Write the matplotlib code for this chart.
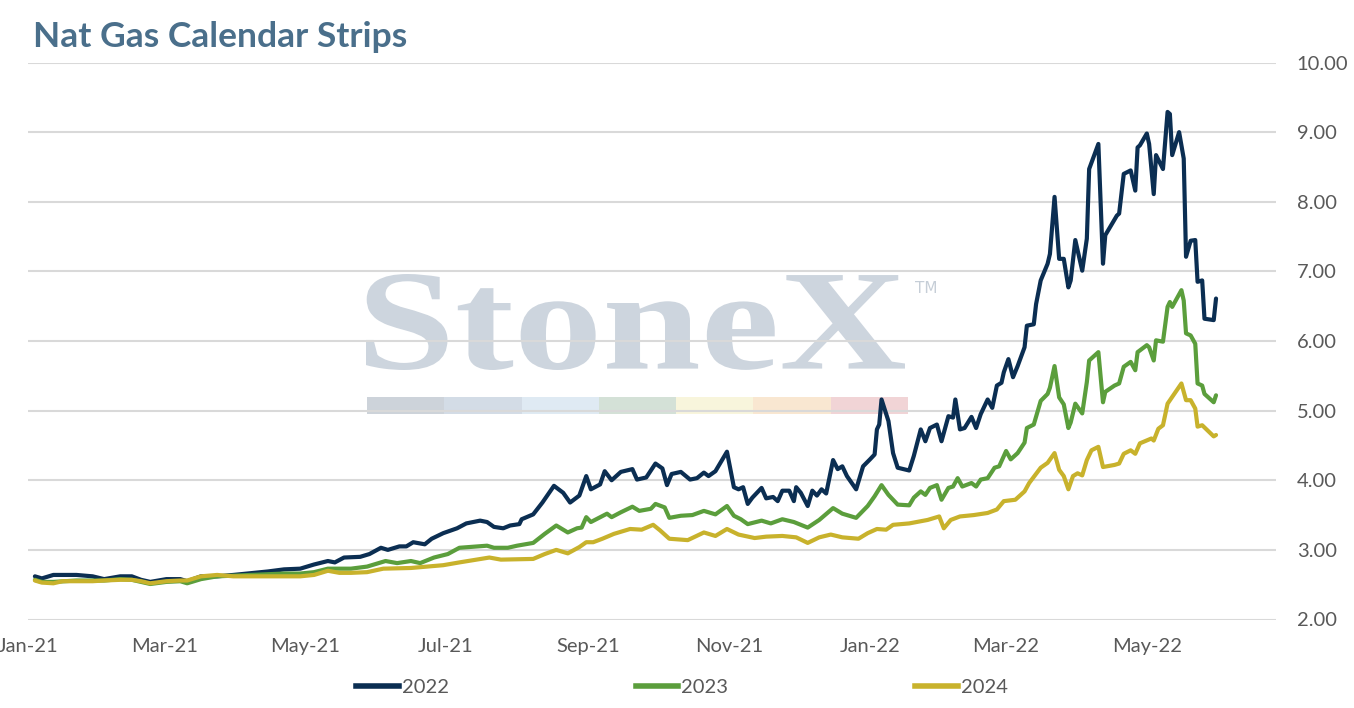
import matplotlib
matplotlib.use("Agg")
import matplotlib.pyplot as plt
import matplotlib.dates as mdates
import matplotlib.transforms as mtransforms
from matplotlib.textpath import TextPath
from matplotlib.patches import PathPatch, Rectangle
from matplotlib.font_manager import FontProperties
from matplotlib.lines import Line2D
import pandas as pd

# ---------------- data ----------------
TITLE = "Nat Gas Calendar Strips"
SERIES_NAMES = ["2022", "2023", "2024"]
SERIES_COLORS = ["#0b2e52", "#5b9e3c", "#c8b22c"]
BASE_DATE = "2021-01-01"          # x values below are days since this date
Y_TICKS = [2, 3, 4, 5, 6, 7, 8, 9, 10]
X_END = "2022-06-26"

days_2022 = [3, 6, 11, 21, 28, 33, 40, 45, 49, 53, 60, 66, 69, 75, 82, 89, 104, 111,
             118, 124, 130, 133, 137, 144, 148, 153, 156, 161, 164, 167, 172, 175,
             180, 186, 190, 196, 199, 202, 206, 209, 213, 214, 219, 223, 228, 232,
             235, 239, 242, 244, 248, 250, 253, 257, 262, 264, 268, 272, 275, 277,
             279, 283, 287, 290, 293, 295, 298, 303, 306, 308, 310, 312, 314, 318,
             320, 323, 325, 327, 330, 332, 333, 335, 338, 340, 342, 344, 346, 349,
             351, 353, 355, 359, 362, 365, 367, 368, 369, 370, 373, 375, 377, 382,
             384, 387, 389, 391, 394, 396, 399, 401, 402, 404, 406, 409, 411, 413,
             416, 418, 420, 422, 423, 425, 427, 429, 432, 433, 436, 437, 439, 442,
             443, 445, 447, 449, 451, 452, 454, 457, 459, 460, 464, 466, 467, 472,
             473, 475, 478, 480, 481, 482, 485, 486, 488, 489, 492, 494, 495, 496,
             499, 501, 502, 504, 506, 507, 509, 510, 514, 515]
vals_2022 = [2.62, 2.59, 2.64, 2.64, 2.62, 2.58, 2.62, 2.62, 2.57, 2.54, 2.58, 2.58,
             2.55, 2.62, 2.62, 2.64, 2.69, 2.72, 2.73, 2.79, 2.84, 2.82, 2.89, 2.90,
             2.94, 3.03, 3.00, 3.05, 3.05, 3.11, 3.08, 3.16, 3.24, 3.31, 3.38, 3.42,
             3.40, 3.33, 3.31, 3.35, 3.37, 3.44, 3.51, 3.68, 3.92, 3.82, 3.68, 3.78,
             4.06, 3.87, 3.94, 4.13, 4.00, 4.12, 4.16, 4.01, 4.04, 4.24, 4.17, 3.93,
             4.09, 4.12, 4.01, 4.03, 4.11, 4.06, 4.13, 4.41, 3.90, 3.87, 3.90, 3.66,
             3.75, 3.89, 3.74, 3.76, 3.70, 3.85, 3.85, 3.70, 3.90, 3.82, 3.63, 3.85,
             3.78, 3.87, 3.81, 4.29, 4.16, 4.20, 4.06, 3.87, 4.20, 4.30, 4.37, 4.73,
             4.80, 5.16, 4.85, 4.39, 4.18, 4.14, 4.35, 4.73, 4.56, 4.75, 4.80, 4.56,
             4.92, 4.90, 5.16, 4.73, 4.75, 4.91, 4.75, 4.95, 5.16, 5.04, 5.36, 5.40,
             5.55, 5.74, 5.48, 5.64, 5.91, 6.22, 6.24, 6.53, 6.87, 7.11, 7.25, 8.07,
             7.18, 7.18, 6.77, 6.87, 7.45, 7.01, 7.47, 8.47, 8.83, 7.11, 7.52, 7.80,
             7.83, 8.40, 8.45, 8.16, 8.78, 8.81, 8.98, 8.83, 8.11, 8.67, 8.47, 9.29,
             9.26, 8.67, 9.00, 8.62, 7.21, 7.44, 7.45, 6.85, 6.87, 6.32, 6.30, 6.61]

days_2023 = [3, 6, 11, 21, 28, 33, 40, 45, 49, 53, 60, 66, 69, 75, 82, 89, 97, 104,
             111, 118, 124, 130, 140, 147, 155, 160, 166, 170, 176, 182, 187, 195,
             199, 202, 208, 212, 219, 224, 229, 234, 238, 240, 242, 244, 251, 253,
             257, 262, 265, 270, 272, 276, 278, 283, 288, 293, 298, 303, 306, 309,
             312, 318, 322, 327, 332, 338, 343, 349, 353, 359, 364, 367, 370, 373,
             377, 382, 384, 387, 389, 391, 394, 396, 399, 401, 403, 405, 409, 411,
             413, 416, 419, 421, 424, 426, 429, 432, 433, 436, 439, 442, 443, 445,
             447, 449, 451, 452, 454, 457, 459, 460, 464, 466, 467, 471, 473, 475,
             478, 480, 481, 485, 486, 488, 489, 492, 494, 495, 496, 500, 501, 502,
             504, 506, 507, 509, 510, 514, 515]
vals_2023 = [2.57, 2.54, 2.54, 2.56, 2.56, 2.56, 2.58, 2.57, 2.54, 2.51, 2.54, 2.55,
             2.52, 2.58, 2.62, 2.63, 2.64, 2.65, 2.66, 2.66, 2.68, 2.73, 2.73, 2.76,
             2.84, 2.81, 2.84, 2.81, 2.89, 2.94, 3.03, 3.05, 3.06, 3.03, 3.03, 3.06,
             3.10, 3.23, 3.35, 3.25, 3.31, 3.32, 3.47, 3.40, 3.52, 3.47, 3.54, 3.62,
             3.56, 3.59, 3.66, 3.61, 3.46, 3.49, 3.50, 3.56, 3.51, 3.63, 3.49, 3.44,
             3.37, 3.42, 3.38, 3.44, 3.40, 3.32, 3.43, 3.60, 3.52, 3.46, 3.63, 3.77,
             3.93, 3.79, 3.65, 3.64, 3.75, 3.84, 3.79, 3.89, 3.93, 3.72, 3.89, 3.91,
             4.03, 3.91, 3.96, 3.91, 4.01, 4.03, 4.18, 4.20, 4.42, 4.30, 4.39, 4.54,
             4.75, 4.80, 5.14, 5.24, 5.33, 5.64, 5.19, 5.09, 4.75, 4.83, 5.10, 4.96,
             5.41, 5.72, 5.84, 5.12, 5.27, 5.36, 5.39, 5.63, 5.70, 5.58, 5.84, 5.94,
             5.91, 5.72, 6.01, 5.99, 6.49, 6.56, 6.49, 6.73, 6.58, 6.11, 6.08, 5.96,
             5.39, 5.36, 5.24, 5.12, 5.22]

days_2024 = [3, 6, 11, 15, 21, 28, 33, 40, 45, 49, 53, 60, 66, 69, 75, 82, 89, 97,
             104, 111, 118, 124, 128, 130, 135, 140, 147, 154, 166, 180, 187, 200,
             205, 219, 224, 229, 234, 239, 242, 245, 249, 254, 261, 266, 271, 274,
             278, 286, 293, 298, 303, 308, 315, 320, 327, 333, 338, 343, 348, 353,
             360, 364, 368, 372, 375, 382, 390, 395, 397, 400, 404, 410, 416, 420,
             423, 428, 432, 434, 439, 442, 445, 447, 449, 451, 453, 455, 457, 459,
             461, 464, 466, 471, 473, 475, 478, 480, 482, 487, 488, 490, 492, 494,
             500, 502, 504, 506, 507, 509, 514, 515]
vals_2024 = [2.56, 2.53, 2.52, 2.55, 2.55, 2.55, 2.56, 2.57, 2.57, 2.55, 2.52, 2.55,
             2.56, 2.56, 2.62, 2.64, 2.62, 2.62, 2.62, 2.62, 2.62, 2.64, 2.68, 2.70,
             2.67, 2.67, 2.68, 2.73, 2.74, 2.78, 2.82, 2.89, 2.86, 2.87, 2.94, 3.00,
             2.95, 3.04, 3.11, 3.11, 3.16, 3.23, 3.30, 3.29, 3.36, 3.28, 3.16, 3.14,
             3.25, 3.20, 3.30, 3.22, 3.17, 3.19, 3.20, 3.18, 3.10, 3.18, 3.22, 3.18,
             3.16, 3.24, 3.30, 3.29, 3.36, 3.38, 3.43, 3.48, 3.31, 3.43, 3.48, 3.50,
             3.53, 3.58, 3.70, 3.72, 3.84, 3.96, 4.18, 4.25, 4.39, 4.15, 4.06, 3.87,
             4.06, 4.10, 4.07, 4.29, 4.43, 4.48, 4.19, 4.22, 4.24, 4.38, 4.43, 4.38,
             4.53, 4.60, 4.57, 4.74, 4.79, 5.10, 5.39, 5.15, 5.15, 5.03, 4.77, 4.79,
             4.63, 4.65]

# watermark
WM_TEXT = "StoneX"
WM_BAR_COLORS = ["#cdd3da", "#d3dce6", "#dfeaf3", "#d4e1d7", "#f8f5dc", "#f9e7d1", "#f1d4d6"]

# ---------------- figure ----------------
W, H = 1354, 708
fig = plt.figure(figsize=(W / 100, H / 100), dpi=100)
fig.patch.set_facecolor("white")

ax_left, ax_right, ax_top, ax_bot = 28, 1276, 62.5, 619.5
ax = fig.add_axes([ax_left / W, (H - ax_bot) / H, (ax_right - ax_left) / W, (ax_bot - ax_top) / H])
ax.set_facecolor("none")

base = pd.Timestamp(BASE_DATE)
series = [(days_2022, vals_2022), (days_2023, vals_2023), (days_2024, vals_2024)]
for (dd, vv), name, col in zip(series, SERIES_NAMES, SERIES_COLORS):
    dts = base + pd.to_timedelta(dd, unit="D")
    ax.plot(dts, vv, color=col, lw=3.0, solid_joinstyle="round", solid_capstyle="round",
            label=name, zorder=3)

ax.set_xlim(base, pd.Timestamp(X_END))
ax.set_ylim(min(Y_TICKS), max(Y_TICKS))
ax.set_yticks(Y_TICKS)
ax.yaxis.set_major_formatter(plt.FuncFormatter(lambda v, p: f"{v:.2f}"))
ax.yaxis.tick_right()
ax.xaxis.set_major_locator(mdates.MonthLocator(bymonth=[1, 3, 5, 7, 9, 11]))
ax.xaxis.set_major_formatter(mdates.DateFormatter("%b-%y"))
ax.grid(axis="y", color="#d9d9d9", lw=1.5, zorder=1)
ax.set_axisbelow(True)
for s in ax.spines.values():
    s.set_visible(False)
ax.tick_params(axis="both", length=0, labelcolor="#595959", labelsize=14.5)
ax.tick_params(axis="y", pad=15)
ax.tick_params(axis="x", pad=13)
for lab in ax.get_xticklabels() + ax.get_yticklabels():
    lab.set_fontfamily("Lato")

# title
fig.text(33 / W, (H - 47) / H, TITLE, fontsize=25.5, color="#4a6f8b", fontfamily="Lato",
         fontweight="bold", va="baseline", ha="left")

# legend
handles = [Line2D([], [], color=c, lw=4) for c in SERIES_COLORS]
fig.legend(handles, SERIES_NAMES, loc="center", bbox_to_anchor=(682 / W, (H - 687) / H),
           ncol=3, frameon=False, handlelength=2.1, handletextpad=0.15, columnspacing=9.3,
           prop=FontProperties(family="Lato", size=14.5), labelcolor="#595959")

# watermark logo (behind the chart)
fp = FontProperties(family="Liberation Serif", weight="bold")
tp = TextPath((0, 0), WM_TEXT, size=100, prop=fp)
bb = tp.get_extents()
x0, x1, ytop, ybot = 366, 905, 274, 370
tr = (mtransforms.Affine2D().translate(-bb.x0, -bb.y0)
      .scale((x1 - x0) / bb.width, (ybot - ytop) / bb.height)
      .translate(x0, H - ybot).scale(1 / W, 1 / H) + fig.transFigure)
fig.add_artist(PathPatch(tp, transform=tr, facecolor="#cdd5de", edgecolor="none", zorder=-2))
fig.text(915 / W, (H - 293) / H, "TM", fontsize=11, color="#c6ced7", fontfamily="DejaVu Sans",
         zorder=-2)
bar_x0, bar_x1, bar_top, bar_bot = 367, 908, 397, 414
seg_w = (bar_x1 - bar_x0) / len(WM_BAR_COLORS)
for i, c in enumerate(WM_BAR_COLORS):
    fig.add_artist(Rectangle(((bar_x0 + i * seg_w) / W, (H - bar_bot) / H), seg_w / W,
                             (bar_bot - bar_top) / H, transform=fig.transFigure,
                             facecolor=c, edgecolor="none", zorder=-2))

fig.savefig("out.png", dpi=100)
